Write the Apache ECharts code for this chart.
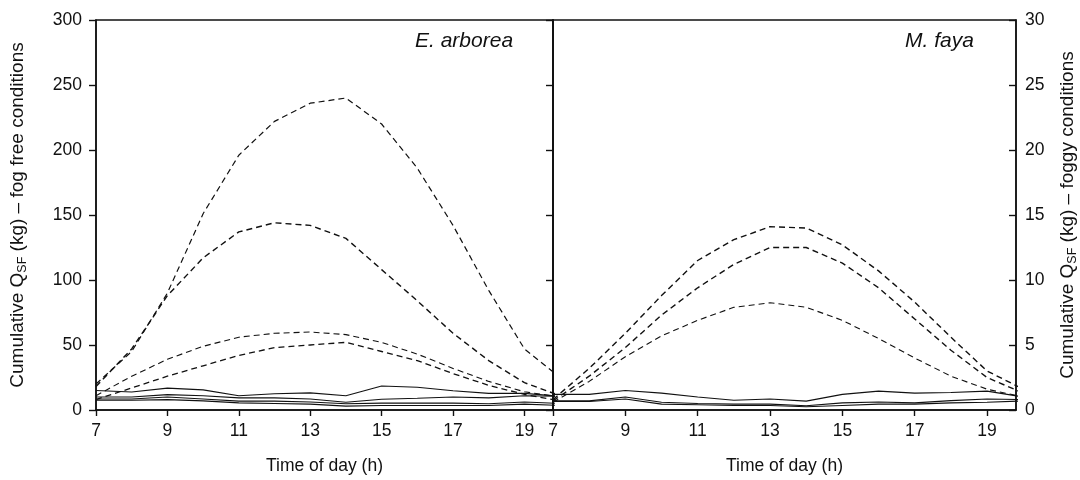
<!DOCTYPE html>
<html>
<head>
<meta charset="utf-8">
<script src="https://cdn.jsdelivr.net/npm/echarts@6/dist/echarts.min.js"></script>
<style>
  html, body { margin: 0; padding: 0; background: #fff; }
  #chart { width: 1080px; height: 480px; }
</style>
</head>
<body>
<div id="chart"></div>
<script>
// Hours of the day sampled for each stand
const hours = [7, 8, 9, 10, 11, 12, 13, 14, 15, 16, 17, 18, 19, 20];
const xTicks = ['7', '9', '11', '13', '15', '17', '19'];

// E. arborea – cumulative stemflow (kg), fog-free days (dashed)
const eaFogFree1 = [20, 45, 90, 151, 196, 222, 236, 240, 220, 186, 142, 92, 47, 25];
const eaFogFree2 = [18, 47, 88, 117, 137, 144, 142, 132, 108, 84, 59, 38, 21, 11];
const eaFogFree3 = [11, 26, 39, 49, 56, 59, 60, 58, 52, 43, 32, 22, 14, 10];
const eaFogFree4 = [8, 17, 26, 34, 42, 48, 50, 52, 45, 38, 28, 19, 12, 7];
// E. arborea – foggy days (solid)
const eaFoggy1 = [15, 13.8, 16.8, 15.5, 11, 12.5, 13.2, 11, 18.5, 17.5, 14.8, 12.8, 12.8, 10.5];
const eaFoggy2 = [10, 10, 11.8, 11, 9.3, 9.3, 8.5, 6, 8.3, 9, 10, 9.3, 11, 10.5];
const eaFoggy3 = [8.5, 8.5, 10, 8.5, 6.8, 6.8, 6.2, 4.8, 5.3, 5.3, 5.3, 4.8, 6.2, 5];
const eaFoggy4 = [7.5, 7.5, 8, 7, 5.5, 5, 4.5, 3, 3.5, 3.5, 3.5, 3.5, 4.5, 3.5];

// M. faya – fog-free days (dashed)
const mfFogFree1 = [0.8, 3.2, 5.9, 8.8, 11.5, 13.1, 14.1, 14.0, 12.7, 10.7, 8.3, 5.6, 3.0, 1.6];
const mfFogFree2 = [0.7, 2.6, 4.8, 7.3, 9.4, 11.2, 12.5, 12.5, 11.3, 9.4, 7.0, 4.6, 2.5, 1.3];
const mfFogFree3 = [0.6, 2.2, 4.1, 5.7, 6.9, 7.9, 8.25, 7.9, 6.9, 5.5, 4.0, 2.6, 1.6, 1.0];
// M. faya – foggy days (solid)
const mfFoggy1 = [1.2, 1.2, 1.5, 1.3, 1.0, 0.75, 0.85, 0.68, 1.2, 1.45, 1.3, 1.35, 1.45, 1.0];
const mfFoggy2 = [0.7, 0.7, 1.0, 0.6, 0.5, 0.45, 0.45, 0.33, 0.55, 0.62, 0.55, 0.72, 0.85, 0.8];
const mfFoggy3 = [0.65, 0.65, 0.85, 0.45, 0.4, 0.35, 0.35, 0.25, 0.35, 0.45, 0.45, 0.55, 0.6, 0.7];

const FONT = "'Liberation Sans', Arial, sans-serif";
const INK = '#111';

function pairs(vals) {
  return vals.map((v, i) => [hours[i], v]);
}
function dashed(vals, panel, width) {
  return {
    type: 'line', data: pairs(vals), xAxisIndex: panel, yAxisIndex: panel,
    symbol: 'none', silent: true, clip: true,
    lineStyle: { color: INK, width: width || 1.2, type: [6, 4] }
  };
}
function solid(vals, panel) {
  return {
    type: 'line', data: pairs(vals), xAxisIndex: panel, yAxisIndex: panel,
    symbol: 'none', silent: true, clip: true,
    lineStyle: { color: INK, width: 1.1, type: 'solid' }
  };
}

const tickLabel = v => (xTicks.indexOf(String(v)) >= 0 ? String(v) : '');

function xAxis(grid) {
  return {
    type: 'value', gridIndex: grid, min: 7, max: 19.8, interval: 2,
    name: 'Time of day (h)', nameLocation: 'middle', nameGap: 47,
    nameTextStyle: { fontFamily: FONT, fontSize: 17.5, color: INK },
    axisLine: { show: true, onZero: false, lineStyle: { color: INK, width: 1.6 } },
    axisTick: { show: true, inside: false, length: 6, lineStyle: { color: INK, width: 1.4 } },
    axisLabel: { show: true, margin: 12, fontFamily: FONT, fontSize: 17.5, color: INK,
                 showMaxLabel: false, formatter: tickLabel },
    splitLine: { show: false }
  };
}

const richTitle = {
  a: { fontFamily: FONT, fontSize: 19, color: INK, lineHeight: 23 },
  sub: { fontFamily: FONT, fontSize: 12.5, color: INK, lineHeight: 11, verticalAlign: 'bottom' }
};

const option = {
  animation: false,
  backgroundColor: '#fff',
  grid: [
    { left: 96, right: 1080 - 553, top: 20, bottom: 480 - 419, show: true,
      borderColor: INK, borderWidth: 1.4, backgroundColor: 'transparent' },
    { left: 553, right: 1080 - 1016, top: 20, bottom: 480 - 419, show: true,
      borderColor: INK, borderWidth: 1.4, backgroundColor: 'transparent' }
  ],
  xAxis: [xAxis(0), xAxis(1)],
  yAxis: [
    {
      type: 'value', gridIndex: 0, min: 0, max: 300, interval: 50, position: 'left',
      name: '{a|Cumulative Q}{sub|SF}{a| (kg) – fog free conditions}',
      nameLocation: 'middle', nameRotate: 90, nameGap: 67,
      nameTextStyle: { rich: richTitle },
      axisLine: { show: true, lineStyle: { color: INK, width: 1.6 } },
      axisTick: { show: true, inside: false, length: 7, lineStyle: { color: INK, width: 1.4 } },
      axisLabel: { margin: 14, fontFamily: FONT, fontSize: 17.5, color: INK },
      splitLine: { show: false }
    },
    {
      type: 'value', gridIndex: 1, min: 0, max: 30, interval: 5, position: 'left',
      axisLine: { show: true, lineStyle: { color: INK, width: 1.8 } },
      axisTick: { show: true, inside: false, length: 7, lineStyle: { color: INK, width: 1.4 } },
      axisLabel: { show: false },
      splitLine: { show: false }
    },
    {
      type: 'value', gridIndex: 1, min: 0, max: 30, interval: 5, position: 'right',
      name: '{a|Cumulative Q}{sub|SF}{a| (kg) – foggy conditions}',
      nameLocation: 'middle', nameRotate: 90, nameGap: 40,
      nameTextStyle: { rich: richTitle },
      axisLine: { show: true, lineStyle: { color: INK, width: 1.6 } },
      axisTick: { show: true, inside: true, length: 7, lineStyle: { color: INK, width: 1.4 } },
      axisLabel: { margin: 9, fontFamily: FONT, fontSize: 17.5, color: INK },
      splitLine: { show: false }
    }
  ],
  graphic: [
    { type: 'text', left: 415, top: 31,
      style: { text: 'E. arborea', fontFamily: FONT, fontSize: 21, fontStyle: 'italic', fill: INK } },
    { type: 'text', left: 905, top: 31,
      style: { text: 'M. faya', fontFamily: FONT, fontSize: 21, fontStyle: 'italic', fill: INK } }
  ],
  series: [
    dashed(eaFogFree1, 0, 1.2),
    dashed(eaFogFree2, 0, 1.4),
    dashed(eaFogFree3, 0, 1.1),
    dashed(eaFogFree4, 0, 1.3),
    solid(eaFoggy1, 0),
    solid(eaFoggy2, 0),
    solid(eaFoggy3, 0),
    solid(eaFoggy4, 0),
    dashed(mfFogFree1, 1, 1.4),
    dashed(mfFogFree2, 1, 1.4),
    dashed(mfFogFree3, 1, 1.1),
    solid(mfFoggy1, 1),
    solid(mfFoggy2, 1),
    solid(mfFoggy3, 1)
  ]
};

const chart = echarts.init(document.getElementById('chart'), null, { renderer: 'canvas' });
chart.setOption(option);
</script>
</body>
</html>
